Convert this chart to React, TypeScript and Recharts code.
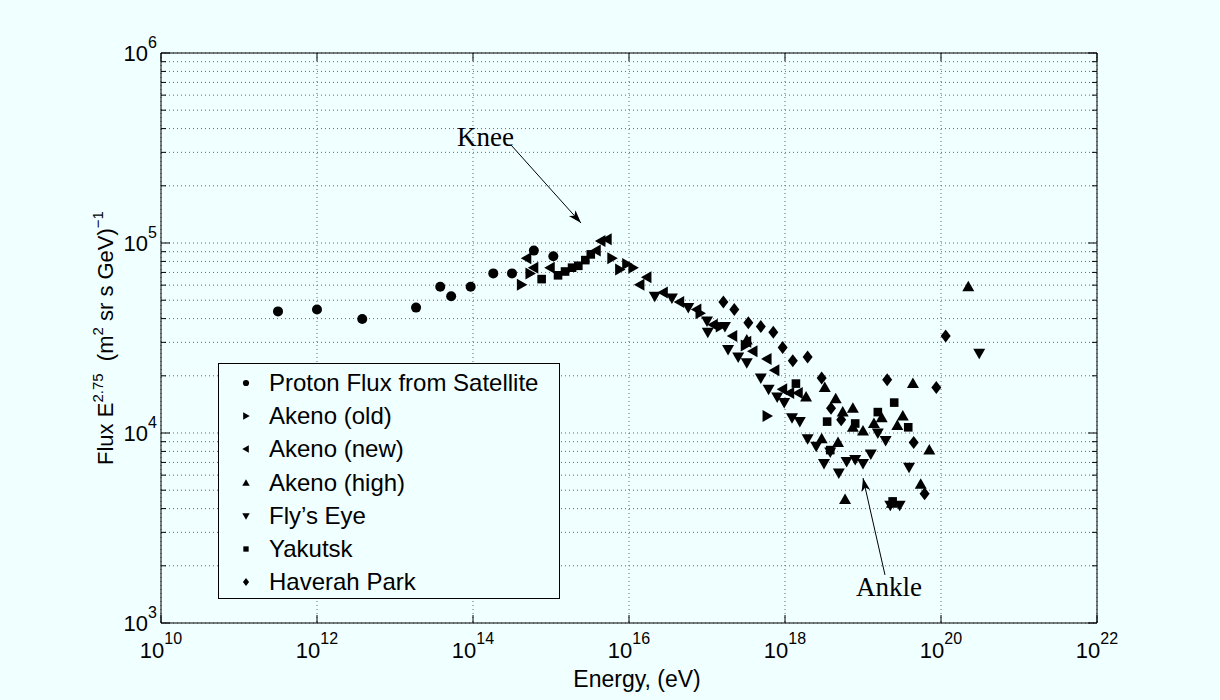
import { ScatterChart, Scatter, XAxis, YAxis, CartesianGrid, ReferenceLine, Legend } from 'recharts';

const W = 1220;
const H = 700;
const LEFT = 161;
const TOP = 53;
const RIGHT = 1097;
const BOTTOM = 623;
const PLOT_W = RIGHT - LEFT;
const PLOT_H = BOTTOM - TOP;
const BG = '#f0ffff';
const SANS = '"Liberation Sans", Arial, Helvetica, sans-serif';
const SERIF = '"Liberation Serif", "Times New Roman", serif';

// values are log10(E / eV) and log10(flux * E^2.75)
const protonE = [11.5, 12.0, 12.58, 13.27, 13.58, 13.72, 13.97, 14.26, 14.5, 14.78, 15.03];
const protonF = [4.64, 4.65, 4.6, 4.66, 4.77, 4.72, 4.77, 4.84, 4.84, 4.96, 4.93];

const akenoOldE = [14.62, 14.73, 15.78, 15.88, 15.97, 16.05, 16.91, 17.17, 17.49, 17.77];
const akenoOldF = [4.78, 4.84, 4.92, 4.86, 4.89, 4.87, 4.63, 4.56, 4.46, 4.09];

const akenoNewE = [14.69, 14.78, 14.99, 15.58, 15.64, 15.72, 16.14, 16.23, 16.44, 16.65, 16.87, 17.08, 17.33, 17.51, 17.59, 17.77, 17.87, 17.97, 18.06, 18.17];
const akenoNewF = [4.92, 4.87, 4.87, 4.96, 5.01, 5.02, 4.78, 4.82, 4.74, 4.69, 4.65, 4.57, 4.51, 4.48, 4.43, 4.39, 4.33, 4.23, 4.21, 4.21];

const akenoHighE = [17.51, 18.27, 18.51, 18.65, 18.74, 18.87, 18.87, 19.0, 19.14, 19.24, 19.44, 19.51, 19.64, 18.47, 18.68, 18.77, 19.74, 19.85, 20.35, 19.37];
const akenoHighF = [4.49, 4.19, 4.24, 4.18, 4.11, 4.13, 4.03, 4.01, 4.05, 4.08, 4.04, 4.09, 4.26, 3.97, 3.95, 3.65, 3.73, 3.91, 4.77, 3.63];

const flysEyeE = [16.33, 16.55, 16.76, 17.0, 17.01, 17.23, 17.27, 17.4, 17.51, 17.69, 17.79, 17.9, 17.99, 18.09, 18.19, 18.29, 18.4, 18.5, 18.58, 18.69, 18.79, 18.9, 19.0, 19.1, 19.19, 19.29, 19.35, 19.47, 19.59, 20.49];
const flysEyeF = [4.72, 4.71, 4.66, 4.59, 4.53, 4.56, 4.44, 4.4, 4.37, 4.29, 4.23, 4.19, 4.16, 4.08, 4.06, 3.97, 3.93, 3.84, 3.9, 3.79, 3.85, 3.86, 3.84, 3.89, 4.0, 3.96, 3.62, 3.62, 3.82, 4.42];

const yakutskE = [14.88, 15.09, 15.18, 15.27, 15.35, 15.44, 15.51, 18.14, 18.54, 18.58, 18.9, 19.19, 19.4, 19.58, 19.38];
const yakutskF = [4.81, 4.83, 4.85, 4.87, 4.88, 4.91, 4.94, 4.26, 4.06, 3.91, 4.05, 4.11, 4.16, 4.03, 3.64];

const haverahE = [17.21, 17.35, 17.53, 17.69, 17.85, 17.97, 18.1, 18.29, 18.47, 18.59, 18.72, 19.31, 19.65, 19.79, 19.94, 20.06];
const haverahF = [4.69, 4.65, 4.58, 4.56, 4.53, 4.45, 4.38, 4.4, 4.29, 4.13, 4.07, 4.28, 3.95, 3.68, 4.24, 4.51];

const xTicks = [10, 12, 14, 16, 18, 20, 22];
const yDecades = [3, 4, 5];
const yTicks = [
  ...yDecades.flatMap((d) => [1, 2, 3, 4, 5, 6, 7, 8, 9].map((m) => d + Math.log10(m))),
  6,
];

const toPoints = (xs: number[], ys: number[]) => xs.map((x, i) => ({ x, y: ys[i] }));

const drawMarker = (kind: string, cx: number, cy: number, s = 1) => {
  switch (kind) {
    case 'circle':
      return <circle cx={cx} cy={cy} r={5 * s} fill="#000" />;
    case 'right':
      return <polygon points={`${cx + 6 * s},${cy} ${cx - 4.5 * s},${cy - 6 * s} ${cx - 4.5 * s},${cy + 6 * s}`} fill="#000" />;
    case 'left':
      return <polygon points={`${cx - 6 * s},${cy} ${cx + 4.5 * s},${cy - 6 * s} ${cx + 4.5 * s},${cy + 6 * s}`} fill="#000" />;
    case 'up':
      return <polygon points={`${cx},${cy - 6 * s} ${cx + 6 * s},${cy + 4.5 * s} ${cx - 6 * s},${cy + 4.5 * s}`} fill="#000" />;
    case 'down':
      return <polygon points={`${cx},${cy + 6 * s} ${cx + 6 * s},${cy - 4.5 * s} ${cx - 6 * s},${cy - 4.5 * s}`} fill="#000" />;
    case 'square':
      return <rect x={cx - 4.3 * s} y={cy - 4.3 * s} width={8.6 * s} height={8.6 * s} fill="#000" />;
    default:
      return <polygon points={`${cx},${cy - 6.5 * s} ${cx + 5 * s},${cy} ${cx},${cy + 6.5 * s} ${cx - 5 * s},${cy}`} fill="#000" />;
  }
};

const SERIES = [
  { name: 'Proton Flux from Satellite', kind: 'circle', data: toPoints(protonE, protonF) },
  { name: 'Akeno (old)', kind: 'right', data: toPoints(akenoOldE, akenoOldF) },
  { name: 'Akeno (new)', kind: 'left', data: toPoints(akenoNewE, akenoNewF) },
  { name: 'Akeno (high)', kind: 'up', data: toPoints(akenoHighE, akenoHighF) },
  { name: 'Fly\u2019s Eye', kind: 'down', data: toPoints(flysEyeE, flysEyeF) },
  { name: 'Yakutsk', kind: 'square', data: toPoints(yakutskE, yakutskF) },
  { name: 'Haverah Park', kind: 'diamond', data: toPoints(haverahE, haverahF) },
];

const XTick = (props: any) => {
  const { x, y, payload } = props;
  return (
    <g>
      <line x1={x} y1={y} x2={x} y2={y - 8} stroke="#000" />
      <line x1={x} y1={y - PLOT_H} x2={x} y2={y - PLOT_H + 8} stroke="#000" />
      <text x={x} y={y + 35} textAnchor="middle" fontSize={22} fontFamily={SANS} fill="#000">
        10<tspan dy={-14} fontSize={16}>{payload.value}</tspan>
      </text>
    </g>
  );
};

const YTick = (props: any) => {
  const { x, y, payload } = props;
  const major = Math.abs(payload.value - Math.round(payload.value)) < 1e-9;
  const len = major ? 9 : 5;
  return (
    <g>
      <line x1={x} y1={y} x2={x + len} y2={y} stroke="#000" />
      <line x1={x + PLOT_W} y1={y} x2={x + PLOT_W - len} y2={y} stroke="#000" />
      {major && (
        <text x={x - 4} y={y + 8} textAnchor="end" fontSize={22} fontFamily={SANS} fill="#000">
          10<tspan dy={-13} fontSize={16}>{Math.round(payload.value)}</tspan>
        </text>
      )}
    </g>
  );
};

const XLabel = (props: any) => {
  const vb = props.viewBox;
  return (
    <text x={vb.x + vb.width / 2 + 8} y={vb.y + 64} textAnchor="middle" fontSize={23} fontFamily={SANS} fill="#000">
      Energy, (eV)
    </text>
  );
};

const YLabel = (props: any) => {
  const vb = props.viewBox;
  const cx = vb.x + 12;
  const cy = vb.y + vb.height / 2;
  return (
    <text transform={`rotate(-90, ${cx}, ${cy})`} x={cx} y={cy} textAnchor="middle" fontSize={22} fontFamily={SANS} fill="#000">
      Flux E<tspan dy={-10} fontSize={15}>2.75</tspan>
      <tspan dy={10}>{'\u00a0\u00a0(m'}</tspan>
      <tspan dy={-10} fontSize={15}>2</tspan>
      <tspan dy={10}>{' sr s GeV)'}</tspan>
      <tspan dy={-10} fontSize={15}>{'\u2212'}1</tspan>
    </text>
  );
};

const arrowShape = (text: string, anchor: 'end' | 'middle', tdx: number, tdy: number) => (p: any) => {
  const { x1, y1, x2, y2 } = p;
  const ang = Math.atan2(y2 - y1, x2 - x1);
  const len = 14;
  const wing = 0.32;
  const bx1 = x2 - len * Math.cos(ang - wing);
  const by1 = y2 - len * Math.sin(ang - wing);
  const bx2 = x2 - len * Math.cos(ang + wing);
  const by2 = y2 - len * Math.sin(ang + wing);
  const nx = x2 - len * 0.7 * Math.cos(ang);
  const ny = y2 - len * 0.7 * Math.sin(ang);
  return (
    <g>
      <line x1={x1} y1={y1} x2={x2} y2={y2} stroke="#000" strokeWidth={1} />
      <polygon points={`${x2},${y2} ${bx1},${by1} ${nx},${ny} ${bx2},${by2}`} fill="#000" />
      <text x={x1 + tdx} y={y1 + tdy} textAnchor={anchor} fontSize={27} fontFamily={SERIF} fill="#000">
        {text}
      </text>
    </g>
  );
};

const LegendBox = () => (
  <div
    style={{
      position: 'relative',
      width: '100%',
      height: '100%',
      boxSizing: 'border-box',
      border: '1.5px solid #000',
      background: BG,
      fontFamily: SANS,
      fontSize: 24,
      color: '#000',
    }}
  >
    {SERIES.map((s, i) => (
      <div
        key={s.name}
        style={{
          position: 'absolute',
          left: 0,
          top: 19 + i * 33.2 - 15,
          height: 30,
          display: 'flex',
          alignItems: 'center',
          whiteSpace: 'nowrap',
        }}
      >
        <svg width={14} height={14} style={{ marginLeft: 20 }}>
          {drawMarker(s.kind, 7, 7, 0.62)}
        </svg>
        <span style={{ marginLeft: 16, lineHeight: '30px' }}>{s.name}</span>
      </div>
    ))}
  </div>
);

export default function App() {
  return (
    <div style={{ position: 'fixed', left: 0, top: 0, width: W, height: H, background: BG }}>
      <ScatterChart
        width={W}
        height={H}
        margin={{ top: TOP, right: W - RIGHT, bottom: H - BOTTOM - 50, left: LEFT - 60 }}
        style={{ background: BG }}
      >
        <CartesianGrid stroke="#666" strokeDasharray="1 3" />
        <XAxis
          type="number"
          dataKey="x"
          domain={[10, 22]}
          ticks={xTicks}
          interval={0}
          allowDataOverflow
          height={50}
          tickSize={0}
          tickMargin={0}
          tickLine={false}
          axisLine={{ stroke: '#000' }}
          tick={<XTick />}
          label={XLabel}
        />
        <YAxis
          type="number"
          dataKey="y"
          domain={[3, 6]}
          ticks={yTicks}
          interval={0}
          allowDataOverflow
          width={60}
          tickSize={0}
          tickMargin={0}
          tickLine={false}
          axisLine={{ stroke: '#000' }}
          tick={<YTick />}
          label={YLabel}
        />
        <ReferenceLine y={6} stroke="#000" />
        <ReferenceLine x={22} stroke="#000" />
        {SERIES.map((s) => (
          <Scatter
            key={s.name}
            name={s.name}
            data={s.data}
            isAnimationActive={false}
            shape={(p: any) => drawMarker(s.kind, p.cx, p.cy)}
          />
        ))}
        <ReferenceLine
          segment={[{ x: 14.487, y: 5.516 }, { x: 15.385, y: 5.105 }]}
          stroke="#000"
          shape={arrowShape('Knee', 'end', 3, 1)}
        />
        <ReferenceLine
          segment={[{ x: 19.282, y: 3.253 }, { x: 19.0, y: 3.763 }]}
          stroke="#000"
          shape={arrowShape('Ankle', 'middle', 4, 21)}
        />
        <Legend
          layout="vertical"
          align="center"
          verticalAlign="middle"
          wrapperStyle={{ left: 218, top: 363, width: 342, height: 236 }}
          content={() => <LegendBox />}
        />
      </ScatterChart>
    </div>
  );
}
